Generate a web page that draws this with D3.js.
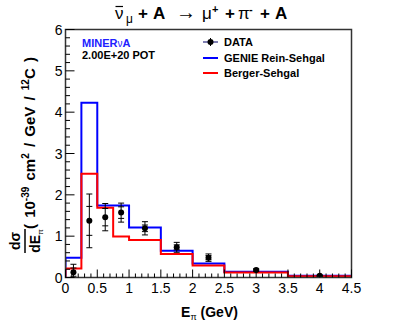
<!DOCTYPE html>
<html>
<head>
<meta charset="utf-8">
<script src="https://cdn.jsdelivr.net/npm/d3@7"></script>
<style>
  body { margin:0; background:#fff; }
  svg { display:block; font-family:"Liberation Sans", Arial, sans-serif; }
</style>
</head>
<body>
<div id="chart"></div>
<script>
// bin edges of the E_pi histogram (GeV)
var binEdges = [0, 0.25, 0.5, 0.75, 1.0, 1.5, 2.0, 2.5, 3.5, 4.5];
// model predictions per bin
var genieRS  = [0.48, 4.23, 1.74, 1.74, 1.21, 0.65, 0.34, 0.14, 0.045];
var bergerS  = [0.22, 2.51, 1.69, 0.99, 0.91, 0.57, 0.29, 0.12, 0.03];
// measured points
var dataX    = [0.125, 0.375, 0.625, 0.875, 1.25, 1.75, 2.25, 3.0, 4.0];
var dataY    = [0.13, 1.37, 1.46, 1.57, 1.19, 0.73, 0.48, 0.18, 0.04];
var statErr  = [0.10, 0.35, 0.21, 0.14, 0.08, 0.06, 0.05, 0.02, 0.01];
var totErr   = [0.19, 0.65, 0.33, 0.23, 0.16, 0.12, 0.09, 0.03, 0.02];
var xTicks   = [0, 0.5, 1, 1.5, 2, 2.5, 3, 3.5, 4, 4.5];
var yTicks   = [0, 1, 2, 3, 4, 5, 6];

var W = 407, H = 328;
var m = {top:29.5, right:55.5, bottom:50.5, left:65.5};
var pw = W - m.left - m.right, ph = H - m.top - m.bottom;

var svg = d3.select("#chart").append("svg").attr("width", W).attr("height", H);

var x = d3.scaleLinear().domain([0, 4.5]).range([0, pw]);
var y = d3.scaleLinear().domain([0, 6]).range([ph, 0]);

var g = svg.append("g").attr("transform", "translate(" + m.left + "," + m.top + ")");

g.append("clipPath").attr("id", "clip")
  .append("rect").attr("width", pw).attr("height", ph);

// histogram outline as a step path
var stepLine = function(vals){
  var pts = [[binEdges[0], 0]];
  vals.forEach(function(v, i){
    pts.push([binEdges[i], v]);
    pts.push([binEdges[i+1], v]);
  });
  pts.push([binEdges[binEdges.length-1], 0]);
  return d3.line().x(function(d){return x(d[0]);}).y(function(d){return y(d[1]);})(pts);
};

var plot = g.append("g").attr("clip-path", "url(#clip)");

plot.append("path").attr("d", stepLine(genieRS))
  .attr("fill", "none").attr("stroke", "#0000ff").attr("stroke-width", 2);
plot.append("path").attr("d", stepLine(bergerS))
  .attr("fill", "none").attr("stroke", "#ff0000").attr("stroke-width", 2);

// data points with stat (inner) and total (outer) error bars
var pts = plot.selectAll("g.pt").data(dataX).enter().append("g").attr("class", "pt");
pts.each(function(d, i){
  var p = d3.select(this), cx = x(d);
  var cap = function(v){
    p.append("line").attr("x1", cx-3).attr("x2", cx+3)
      .attr("y1", y(v)).attr("y2", y(v)).attr("stroke", "#000").attr("stroke-width", 1);
  };
  p.append("line").attr("x1", cx).attr("x2", cx)
    .attr("y1", y(dataY[i]-totErr[i])).attr("y2", y(dataY[i]+totErr[i]))
    .attr("stroke", "#000").attr("stroke-width", 1);
  cap(dataY[i]+totErr[i]); cap(dataY[i]-totErr[i]);
  cap(dataY[i]+statErr[i]); cap(dataY[i]-statErr[i]);
  p.append("circle").attr("cx", cx).attr("cy", y(dataY[i])).attr("r", 3).attr("fill", "#000");
});

// frame
g.append("rect").attr("width", pw).attr("height", ph)
  .attr("fill", "none").attr("stroke", "#333").attr("stroke-width", 1.5);

// axes (ticks pointing into the frame)
var xMinor = d3.range(0, 4.501, 0.1);
var yMinor = d3.range(0, 6.001, 0.2);

g.append("g").selectAll("line").data(xMinor).enter().append("line")
  .attr("x1", function(d){return x(d);}).attr("x2", function(d){return x(d);})
  .attr("y1", ph).attr("y2", function(d){return Math.abs(d/0.5 - Math.round(d/0.5)) < 1e-6 ? ph-8 : ph-4;})
  .attr("stroke", "#000").attr("stroke-width", 1);

g.append("g").selectAll("line").data(yMinor).enter().append("line")
  .attr("y1", function(d){return y(d);}).attr("y2", function(d){return y(d);})
  .attr("x1", 0).attr("x2", function(d){return Math.abs(d - Math.round(d)) < 1e-6 ? 9 : 4.5;})
  .attr("stroke", "#000").attr("stroke-width", 1);

g.append("g").selectAll("text").data(xTicks).enter().append("text")
  .attr("x", function(d){return x(d);}).attr("y", ph + 15)
  .attr("text-anchor", "middle").style("font-size", "14px")
  .text(function(d){return d;});

g.append("g").selectAll("text").data(yTicks).enter().append("text")
  .attr("x", -3).attr("y", function(d){return y(d) + 5;})
  .attr("text-anchor", "end").style("font-size", "14px")
  .text(function(d){return d;});

// x axis title
var xt = svg.append("text").attr("x", m.left + pw/2 + 1).attr("y", 317)
  .attr("text-anchor", "middle").style("font-size", "14px").style("font-weight", "bold");
xt.append("tspan").text("E");
xt.append("tspan").attr("dy", 3).style("font-size", "9px").style("font-weight", "normal").text("π");
xt.append("tspan").attr("dy", -3).text(" (GeV)");

// y axis title, rotated; local x = -screen y, local y = screen x
var yt = svg.append("g").attr("transform", "rotate(-90)");
var fy = -241;
yt.append("text").attr("x", fy).attr("y", 20).attr("text-anchor", "middle")
  .style("font-size", "14px").style("font-weight", "bold").text("dσ");
var den = yt.append("text").attr("x", fy).attr("y", 40).attr("text-anchor", "middle")
  .style("font-size", "14px").style("font-weight", "bold");
den.append("tspan").text("dE");
den.append("tspan").attr("dy", 3).style("font-size", "8px").style("font-weight", "normal").text("π");
yt.append("line").attr("x1", fy-12).attr("x2", fy+12).attr("y1", 25).attr("y2", 25)
  .attr("stroke", "#000").attr("stroke-width", 1.5);

var ytx = yt.append("text").attr("x", -229).attr("y", 35)
  .style("font-size", "15px").style("font-weight", "bold").style("word-spacing", "2px");
ytx.append("tspan").text("( 10");
ytx.append("tspan").attr("dy", -6).style("font-size", "10px").text("-39");
ytx.append("tspan").attr("dy", 6).text(" cm");
ytx.append("tspan").attr("dy", -6).style("font-size", "10px").text("2");
ytx.append("tspan").attr("dy", 6).text(" / GeV / ");
ytx.append("tspan").attr("dy", -6).style("font-size", "10px").text("12");
ytx.append("tspan").attr("dy", 6).text("C )");

// title pieces: [text, x, dy, size, bold]
var titleParts = [["ν", 115, 0, 17, 0], ["μ", 126, 4, 12, 0], ["+", 138, 0, 17, 1], ["A", 153, 0, 17, 1],
                  ["→", 176, 0, 20, 0], ["μ", 202, 0, 17, 0], ["+", 212, -6, 11, 1], ["+", 225, 0, 17, 1],
                  ["π", 238, 0, 17, 0], ["-", 249, -6, 11, 1], ["+", 260, 0, 17, 1], ["A", 275, 0, 17, 1]];
var tg = svg.append("g");
tg.selectAll("text").data(titleParts).enter().append("text")
  .attr("x", function(d){return d[1];}).attr("y", function(d){return 18.5 + d[2];})
  .style("font-size", function(d){return d[3] + "px";})
  .style("font-weight", function(d){return d[4] ? "bold" : "normal";})
  .text(function(d){return d[0];});

// bar over the nu
var ext = tg.select("text").node().getExtentOfChar(0);
svg.append("line").attr("x1", ext.x + 0.5).attr("x2", ext.x + ext.width - 0.5)
  .attr("y1", ext.y + 3).attr("y2", ext.y + 3).attr("stroke", "#000").attr("stroke-width", 1.2);

// experiment label
var ml = svg.append("text").attr("x", 82).attr("y", 47)
  .style("font-size", "11px").style("font-weight", "bold").attr("fill", "#2020ff");
ml.append("tspan").text("MINER");
ml.append("tspan").style("font-weight", "normal").style("font-size", "10px").text("ν");
ml.append("tspan").text("A");
svg.append("text").attr("x", 82).attr("y", 59)
  .style("font-size", "11px").style("font-weight", "bold").text("2.00E+20 POT");

// legend
var legRows = ["DATA", "GENIE Rein-Sehgal", "Berger-Sehgal"];
var legColors = ["#000", "#0000ff", "#ff0000"];
var leg = svg.append("g").selectAll("g").data(legRows).enter().append("g")
  .attr("transform", function(d, i){return "translate(203," + [42, 58, 73][i] + ")";});
leg.append("line").attr("x1", 0).attr("x2", 15).attr("y1", 0).attr("y2", 0)
  .attr("stroke", function(d, i){return i == 0 ? "#000066" : legColors[i];})
  .attr("stroke-width", function(d, i){return i == 0 ? 1 : 2;});
leg.filter(function(d, i){return i == 0;}).each(function(){
  var l = d3.select(this);
  l.append("line").attr("x1", 7.5).attr("x2", 7.5).attr("y1", -4).attr("y2", 4).attr("stroke", "#000");
  l.append("circle").attr("cx", 7.5).attr("cy", 0).attr("r", 3).attr("fill", "#000");
});
leg.append("text").attr("x", 21).attr("y", 4)
  .style("font-size", "11px").style("font-weight", "bold").text(function(d){return d;});
</script>
</body>
</html>
